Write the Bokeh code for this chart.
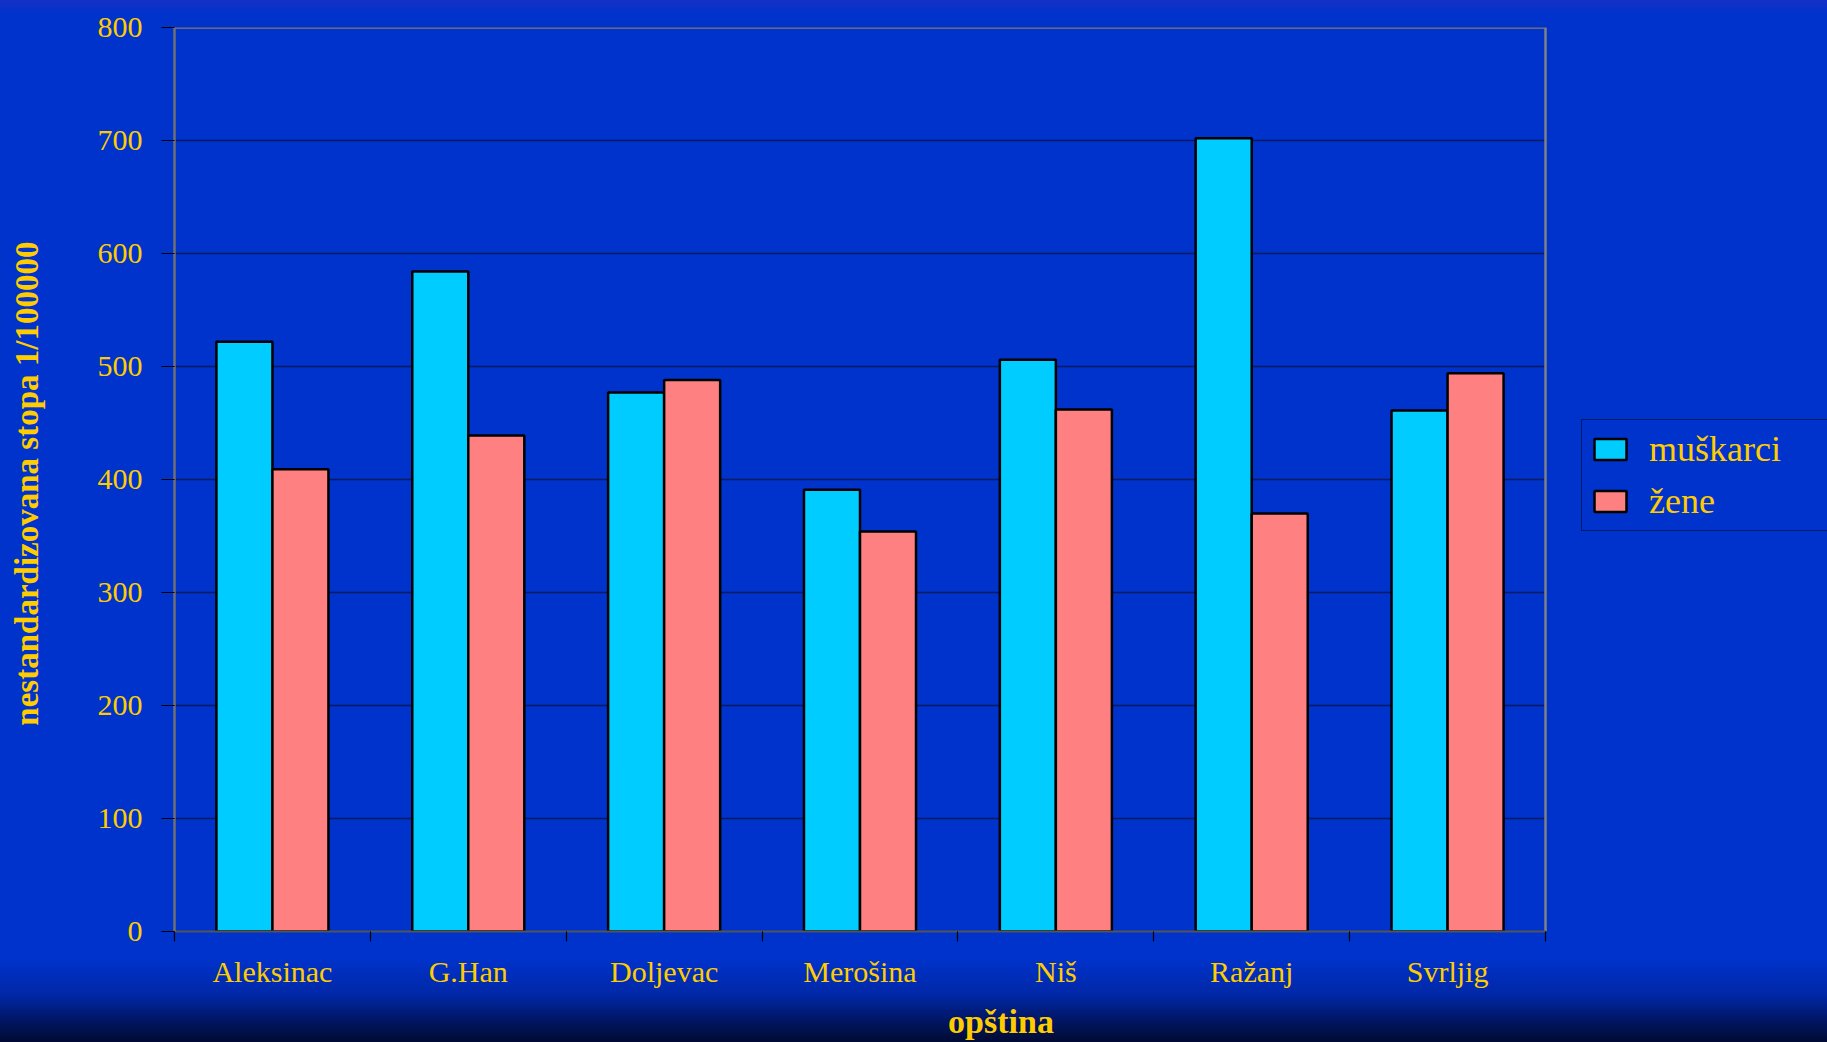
from bokeh.plotting import figure
from bokeh.models import FixedTicker, Legend, LegendItem, ColumnDataSource, GlobalInlineStyleSheet
from bokeh.embed import file_html
from bokeh.resources import INLINE

categories = ["Aleksinac", "G.Han", "Doljevac", "Merošina", "Niš", "Ražanj", "Svrljig"]
muskarci = [522, 584, 477, 391, 506, 702, 461]
zene = [409, 439, 488, 354, 462, 370, 494]
y_ticks = [0, 100, 200, 300, 400, 500, 600, 700, 800]
series_names = ["muškarci", "žene"]

W, H = 1827, 1042
LEFT, RIGHT, TOP, BOTTOM = 174, 1545, 27, 933   # plot-area edges in page pixels

n = len(categories)
ymax = y_ticks[-1]
centers = [i + 0.5 for i in range(n)]
bw = 0.286
src = ColumnDataSource(dict(
    xm=[c - bw / 2 for c in centers], xz=[c + bw / 2 for c in centers],
    m=muskarci, z=zene))

# the frame runs to the page's right edge so the legend can sit beside the plot area
x_end = n * (W - LEFT) / (RIGHT - LEFT)
p = figure(width=W, height=H, output_backend="svg", toolbar_location=None,
           x_range=(0, x_end), y_range=(0, ymax),
           min_border_left=LEFT, min_border_right=0,
           min_border_top=TOP, min_border_bottom=H - BOTTOM)

p.border_fill_alpha = 0
p.background_fill_alpha = 0
p.outline_line_color = None

gold = "#FFCC00"
font = "Liberation Serif"

# horizontal gridlines limited to the plot area
p.segment(x0=[0] * (len(y_ticks) - 1), x1=[n] * (len(y_ticks) - 1),
          y0=y_ticks[1:], y1=y_ticks[1:], line_color="#0b1a5e", line_width=1.6)
# plot-area border (top and right)
p.line(x=[0, n, n], y=[ymax, ymax, 0], line_color="#808080", line_width=2.5)

r1 = p.vbar(x="xm", top="m", width=bw, source=src, fill_color="#00CCFF",
            line_color="black", line_width=2.5)
r2 = p.vbar(x="xz", top="z", width=bw, source=src, fill_color="#FF8080",
            line_color="black", line_width=2.5)

# x axis
p.xaxis.bounds = (0, n)
p.xaxis.ticker = FixedTicker(ticks=centers, minor_ticks=list(range(n + 1)))
p.xaxis.major_label_overrides = {c: lab for c, lab in zip(centers, categories)}
p.xaxis.major_tick_out = 0
p.xaxis.major_tick_in = 0
p.xaxis.minor_tick_out = 10
p.xaxis.minor_tick_in = 0
p.xaxis.minor_tick_line_color = "black"
p.xaxis.minor_tick_line_width = 1.2
p.xaxis.axis_line_color = "#555555"
p.xaxis.axis_line_width = 2
p.xaxis.major_label_text_font = font
p.xaxis.major_label_text_font_size = "30px"
p.xaxis.major_label_text_color = gold
p.xaxis.major_label_standoff = 13
p.xaxis.axis_label = "opština"
p.xaxis.axis_label_text_font = font
p.xaxis.axis_label_text_font_style = "bold"
p.xaxis.axis_label_text_font_size = "34px"
p.xaxis.axis_label_text_color = gold
p.xaxis.axis_label_standoff = 12

# y axis
p.yaxis.ticker = FixedTicker(ticks=y_ticks)
p.yaxis.minor_tick_line_color = None
p.yaxis.major_tick_out = 13
p.yaxis.major_tick_in = 0
p.yaxis.major_tick_line_color = "black"
p.yaxis.major_tick_line_width = 1.2
p.yaxis.axis_line_color = "#707070"
p.yaxis.axis_line_width = 2.5
p.yaxis.major_label_text_font = font
p.yaxis.major_label_text_font_size = "30px"
p.yaxis.major_label_text_color = gold
p.yaxis.major_label_standoff = 19
p.yaxis.axis_label = "nestandardizovana stopa  1/100000"
p.yaxis.axis_label_text_font = font
p.yaxis.axis_label_text_font_style = "bold"
p.yaxis.axis_label_text_font_size = "33px"
p.yaxis.axis_label_text_color = gold
p.yaxis.axis_label_standoff = 50

p.xgrid.grid_line_color = None
p.ygrid.grid_line_color = None

legend = Legend(items=[LegendItem(label=series_names[0], renderers=[r1]),
                       LegendItem(label=series_names[1], renderers=[r2])],
                location=(1581 - LEFT, BOTTOM - 533))
legend.background_fill_alpha = 0
legend.border_line_color = "black"
legend.border_line_width = 1.5
legend.label_text_font = font
legend.label_text_font_size = "36px"
legend.label_text_color = gold
legend.glyph_width = 40
legend.glyph_height = 26
legend.label_standoff = 19
legend.label_width = 210
legend.padding = 8
legend.spacing = 10
legend.margin = 0
p.add_layout(legend, "center")

p.stylesheets = [GlobalInlineStyleSheet(css=(
    "html, body { margin: 0 !important; padding: 0; overflow: hidden; "
    "background: linear-gradient(to bottom, #1630c6 0px, #0033cc 13px, #0033cc 958px, "
    "#0027a6 995px, #001560 1022px, #000a32 1042px); }"))]

with open("out.html", "w") as f:
    f.write(file_html(p, INLINE))
